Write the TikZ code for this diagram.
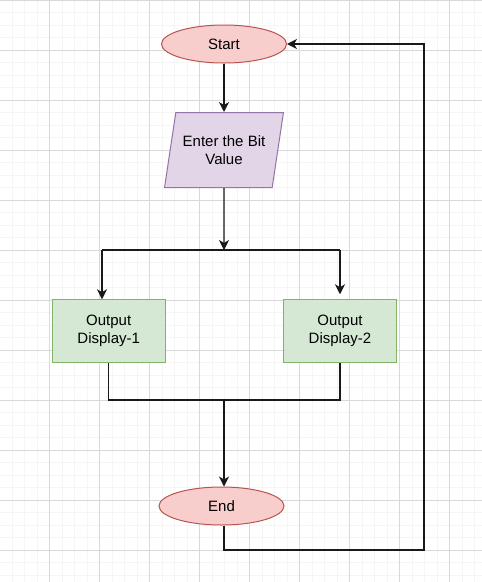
\documentclass[tikz,border=0pt]{standalone}
\usepackage{fontspec}
\setmainfont{Liberation Sans}
\usetikzlibrary{shapes.geometric}
\usetikzlibrary{arrows.meta}
\tikzset{>={Stealth[length=10pt,width=10pt,inset=3pt]}}
\definecolor{r1}{HTML}{F8CECC}
\definecolor{r2}{HTML}{B85450}
\definecolor{p1}{HTML}{E1D5E7}
\definecolor{p2}{HTML}{9673A6}
\definecolor{g1}{HTML}{D5E8D4}
\definecolor{g2}{HTML}{82B366}

\begin{document}
\begin{tikzpicture}[x=1pt,y=-1pt,
  every node/.style={font=\fontsize{15}{18}\selectfont,align=center,inner sep=0pt,line width=1pt},
  term/.style={ellipse,draw=r2,fill=r1,minimum width=125,minimum height=38},
  io/.style={trapezium,trapezium stretches=true,trapezium left angle=71.6,trapezium right angle=108.4,draw=p2,fill=p1,minimum width=119,minimum height=75},
  proc/.style={rectangle,draw=g2,fill=g1,minimum width=113,minimum height=62.5},
  wire/.style={line width=1.3pt,black!90}]
  \useasboundingbox (0,0) rectangle (482,582);
  % grid
  \foreach \x in {0,12.5,...,482} \draw[black!4,line width=0.7pt] (\x-0.5,0) -- (\x-0.5,582);
  \foreach \y in {0,12.5,...,582} \draw[black!4,line width=0.7pt] (0,\y) -- (482,\y);
  \foreach \x in {0,50,...,450} \draw[black!15,line width=0.8pt] (\x-0.5,0) -- (\x-0.5,582);
  \foreach \y in {0,50,...,550} \draw[black!15,line width=0.8pt] (0,\y) -- (482,\y);

  \node[term] (start) at (224,44) {Start};
  \node[io] (input) at (224,150) {Enter the Bit\\Value};
  \node[proc] (out1) at (108.7,331) {Output\\Display-1};
  \node[proc] (out2) at (340,331) {Output\\Display-2};
  \node[term] (end) at (221.5,506) {End};

  \coordinate (split) at (224,250);
  \coordinate (lft) at (102,250);
  \coordinate (rgt) at (340,250);
  \coordinate (join) at (224,400);
  \coordinate (back) at (424,550);

  \draw[wire,->] (start) -- (input);
  \draw[wire,->] (input.south) -- (split);
  \draw[wire] (lft) -- (rgt);
  \draw[wire,->] (lft) -- (lft |- out1.north);
  \draw[wire,->,shorten >=5pt] (rgt) -- (out2);
  \draw[wire] (out1.south) |- (join) -| (out2.south);
  \draw[wire,->] (join) -- (join |- end.north);
  \draw[wire,->] (join |- end.south) |- (back) |- (start.east);
\end{tikzpicture}
\end{document}
